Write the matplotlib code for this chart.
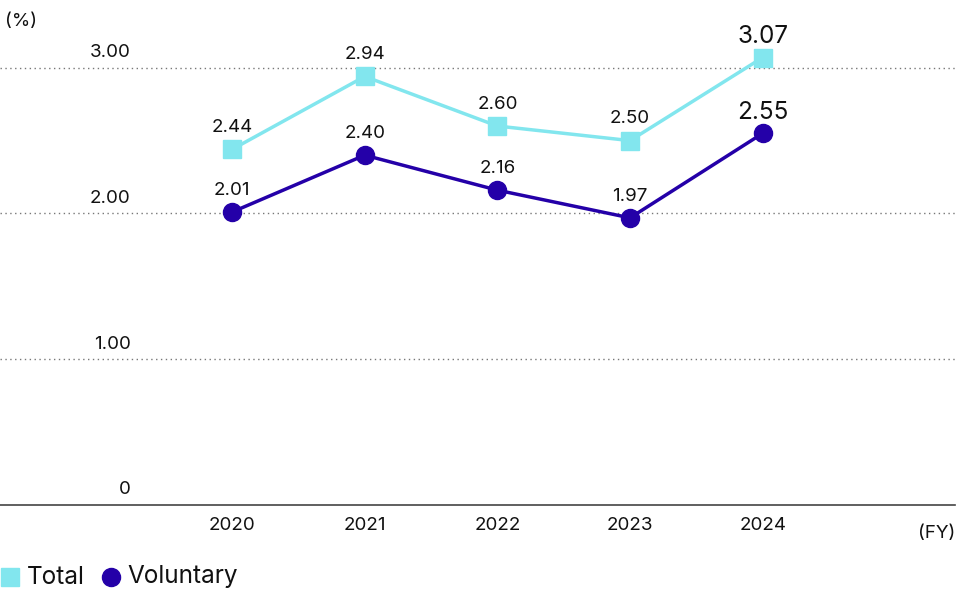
import matplotlib.pyplot as plt

years = ["2020", "2021", "2022", "2023", "2024"]
total = [2.44, 2.94, 2.60, 2.50, 3.07]
voluntary = [2.01, 2.40, 2.16, 1.97, 2.55]
yticks = [0, 1, 2, 3]
ytick_labels = ["0", "1.00", "2.00", "3.00"]

CYAN = "#82E6EE"
NAVY = "#2400A8"

plt.rcParams["font.family"] = ["Inter", "DejaVu Sans"]

fig = plt.figure(figsize=(9.6, 5.94), dpi=100)
ax = fig.add_axes([0, 89 / 594, 955 / 960, 1 - 89 / 594 - 24 / 594])
x = list(range(len(years)))

ax.plot(x, total, color=CYAN, lw=2.5, marker="s", ms=13, zorder=3)
ax.plot(x, voluntary, color=NAVY, lw=2.5, marker="o", ms=13, zorder=3)

# point labels, the latest year is bigger
for i, (t, v) in enumerate(zip(total, voluntary)):
    big = i == len(years) - 1
    fs = 17.5 if big else 13.5
    off = 7 if big else 9.5
    ax.annotate(f"{t:.2f}", (i, t), xytext=(0, off), textcoords="offset points",
                ha="center", va="bottom", fontsize=fs, color="#111111")
    ax.annotate(f"{v:.2f}", (i, v), xytext=(0, off), textcoords="offset points",
                ha="center", va="bottom", fontsize=fs, color="#111111")

ax.set_xlim(-1.75, 5.45)
ax.set_ylim(0, 3.3)
for y in yticks[1:]:
    ax.axhline(y, color="#777777", lw=1, ls=(0, (1, 2.5)), zorder=1)
for y, lab in zip(yticks, ytick_labels):
    ax.text(-0.765, y + 0.045, lab, ha="right", va="bottom", fontsize=13.5, color="#111111")

for s in ["top", "right", "left"]:
    ax.spines[s].set_visible(False)
ax.spines["bottom"].set_color("#444444")
ax.spines["bottom"].set_linewidth(1.2)
ax.set_yticks([])
ax.set_xticks(x)
ax.set_xticklabels(years, fontsize=13.5, color="#111111")
ax.tick_params(axis="x", length=0, pad=9)

fig.text(5 / 960, 1 - 21 / 594, "(%)", ha="left", va="center", fontsize=13.5, color="#111111")
fig.text(955 / 960, 1 - 533 / 594, "(FY)", ha="right", va="center", fontsize=13.5, color="#111111")

# legend
fig.lines.append(plt.Line2D([10 / 960], [1 - 577 / 594], transform=fig.transFigure,
                            marker="s", ms=13, color=CYAN, ls=""))
fig.text(27 / 960, 1 - 577 / 594, "Total", ha="left", va="center", fontsize=17.5, color="#111111")
fig.lines.append(plt.Line2D([111 / 960], [1 - 577 / 594], transform=fig.transFigure,
                            marker="o", ms=13, color=NAVY, ls=""))
fig.text(127 / 960, 1 - 577 / 594, "Voluntary", ha="left", va="center", fontsize=17.5, color="#111111")

fig.savefig("out.png", dpi=100)
